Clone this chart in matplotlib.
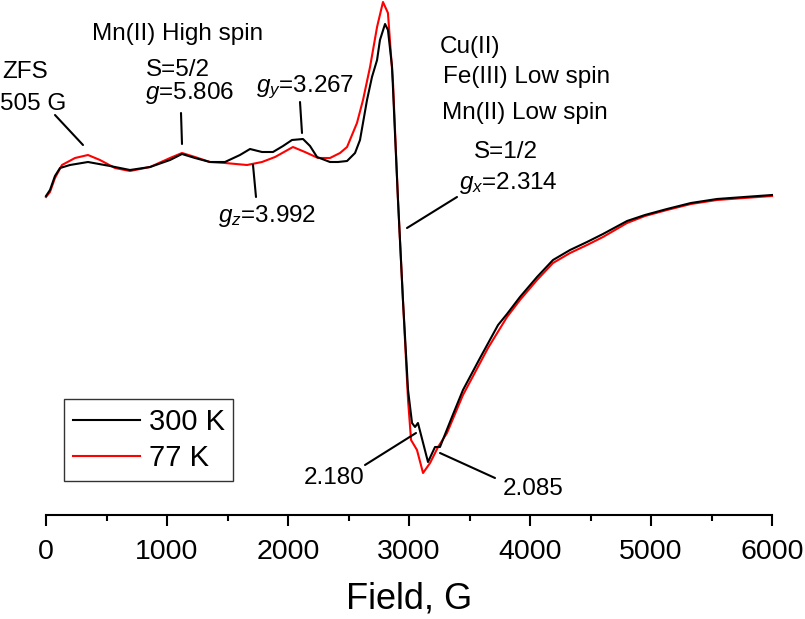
import matplotlib
matplotlib.use("Agg")
import matplotlib.pyplot as plt
from matplotlib.ticker import MultipleLocator

plt.rcParams['font.family'] = ['Liberation Sans', 'DejaVu Sans']
plt.rcParams['mathtext.fontset'] = 'custom'
plt.rcParams['mathtext.rm'] = 'Liberation Sans'
plt.rcParams['mathtext.it'] = 'Liberation Sans:italic'

# ---- data (field in G, intensity in arbitrary units) ----
field_300 = [0, 33, 74, 116, 198, 347, 529, 694, 860, 1025, 1124, 1231, 1355, 1479,
             1603, 1686, 1785, 1876, 1959, 2033, 2124, 2182, 2240, 2347, 2413, 2488,
             2554, 2595, 2653, 2694, 2736, 2760, 2802, 2826, 2860, 2884, 2909, 2950,
             2992, 3025, 3050, 3074, 3157, 3215, 3256, 3355, 3446, 3587, 3736, 3810,
             3917, 4058, 4190, 4331, 4471, 4603, 4802, 4950, 5132, 5330, 5545, 5770, 6000]
int_300 = [-1, 5, 19, 27, 30, 33, 29, 25, 28, 35, 41, 37, 33, 33,
           40, 46, 43, 43, 49, 55, 56, 49, 38, 33, 33, 34,
           42, 55, 95, 118, 135, 155, 171, 165, 128, 62, -5, -105,
           -195, -228, -232, -228, -267, -252, -252, -222, -195, -163, -130, -119,
           -102, -82, -65, -55, -47, -39, -26, -20, -14, -8, -4, -2, 0]

field_77 = [0, 33, 74, 132, 240, 347, 446, 570, 694, 860, 1025, 1124, 1231, 1355,
            1479, 1661, 1785, 1893, 2041, 2140, 2248, 2347, 2430, 2488, 2570, 2620,
            2678, 2736, 2785, 2826, 2868, 2909, 2950, 2992, 3017, 3066, 3116, 3174,
            3240, 3314, 3446, 3587, 3653, 3810, 3917, 4058, 4190, 4331, 4471, 4603,
            4802, 4950, 5132, 5330, 5545, 5770, 6000]
int_77 = [-2, 3, 17, 30, 37, 40, 35, 27, 24, 28, 37, 42, 38, 33,
          32, 30, 33, 38, 48, 43, 37, 37, 42, 48, 72, 95,
          128, 168, 193, 182, 112, -5, -105, -205, -245, -255, -278, -268,
          -252, -238, -200, -168, -153, -122, -105, -85, -68, -58, -50, -42,
          -28, -21, -15, -9, -5, -3, -1]

series_labels = ['300 K', '77 K']
series_colors = ['black', '#ff0000']
x_ticks = [0, 1000, 2000, 3000, 4000, 5000, 6000]

W, H = 805, 619
fig = plt.figure(figsize=(W / 100, H / 100), dpi=100)
ax = fig.add_axes([46 / W, (H - 515) / H, 726 / W, 515 / H])

ax.plot(field_300, int_300, color=series_colors[0], lw=1.5, label=series_labels[0],
        clip_on=False, zorder=3)
ax.plot(field_77, int_77, color=series_colors[1], lw=1.5, label=series_labels[1],
        clip_on=False, zorder=2)

ax.set_xlim(0, 6000)
ax.set_ylim(-320, 195)
ax.set_xticks(x_ticks)
ax.xaxis.set_minor_locator(MultipleLocator(500))
ax.set_yticks([])
for s in ['left', 'right', 'top']:
    ax.spines[s].set_visible(False)
ax.spines['bottom'].set_linewidth(1.5)
ax.tick_params(axis='x', which='major', direction='out', length=8, width=1.5,
               labelsize=20.5, pad=9)
ax.tick_params(axis='x', which='minor', direction='out', length=4.5, width=1.5)
ax.set_xlabel('Field, G', fontsize=26, labelpad=12)

leg = ax.legend(loc='upper left', bbox_to_anchor=(64 / W, 1 - 399 / H),
                bbox_transform=fig.transFigure, fontsize=21, frameon=True,
                fancybox=False, edgecolor='black', borderaxespad=0,
                handlelength=2.3, handletextpad=0.3, borderpad=0.3,
                labelspacing=0.28)
leg.get_frame().set_linewidth(1.0)


def P(px, py):
    return ((px - 46) * 6000 / 726, 195 - py)


fs = 17.5
# (text, x px, baseline y px, alignment)
texts = [
    ('ZFS', 2, 78, 'left'),
    ('505 G', 0, 110, 'left'),
    ('Mn(II) High spin', 178, 40, 'center'),
    ('S=5/2', 178, 76, 'center'),
    (r'$g$=5.806', 190, 99, 'center'),
    (r'$g_y$=3.267', 305, 92, 'center'),
    (r'$g_z$=3.992', 267, 222, 'center'),
    ('Cu(II)', 440, 53, 'left'),
    ('Fe(III) Low spin', 443, 83, 'left'),
    ('Mn(II) Low spin', 442, 119, 'left'),
    ('S=1/2', 506, 158, 'center'),
    (r'$g_x$=2.314', 508, 189, 'center'),
    ('2.180', 334, 484, 'center'),
    ('2.085', 533, 495, 'center'),
]
for t, px, py, ha in texts:
    x, y = P(px, py)
    ax.text(x, y, t, fontsize=fs, ha=ha, va='baseline', clip_on=False)

leaders = [
    ((55, 115), (83, 145)),
    ((181, 113), (182, 144)),
    ((300, 102), (302, 133)),
    ((253, 165), (256, 197)),
    ((457, 197), (407, 228)),
    ((365, 465), (416, 433)),
    ((440, 453), (495, 478)),
]
for a, b in leaders:
    ax.annotate('', xy=P(*b), xytext=P(*a), xycoords='data', textcoords='data',
                arrowprops=dict(arrowstyle='-', lw=1.5, color='black',
                                shrinkA=0, shrinkB=0), annotation_clip=False)

fig.savefig('out.png', dpi=100)
